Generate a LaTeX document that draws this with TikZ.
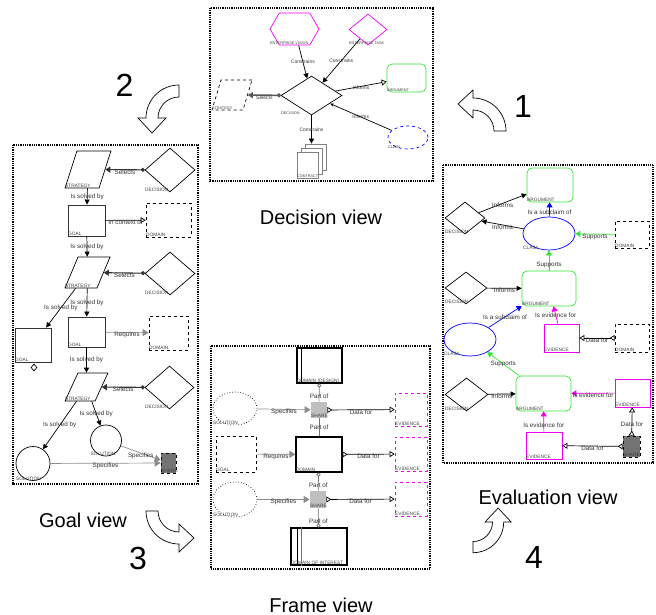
\documentclass[tikz,border=0pt]{standalone}
\usepackage{fontspec}
\setmainfont{Liberation Sans}
\usetikzlibrary{arrows.meta,shapes.geometric,shapes.symbols,shadows}

\definecolor{argcol}{RGB}{50,230,50}
\definecolor{evcol}{RGB}{240,0,240}

\tikzset{
  lab/.style={font=\fontsize{6.3}{7}\selectfont, text=black!80, inner sep=0.5pt},
  tag/.style={font=\fontsize{4.8}{5}\selectfont, text=black!75, inner sep=0.2pt, anchor=south west},
  tagged/.style={append after command={(\tikzlastnode.west |- \tikzlastnode.south) node[tag] {#1}}},
  tagcorner/.style={append after command={(\tikzlastnode.south west) node[tag] {#1}}},
  sz/.style 2 args={minimum width=#1pt, minimum height=#2pt, inner sep=0pt},
  view/.style={draw, line width=1.7pt, dash pattern=on 1pt off 0.8pt},
  title/.style={font=\fontsize{20}{22}\selectfont},
  stepno/.style={font=\fontsize{32}{34}\selectfont},
  bent/.style={draw, fill=white, line width=0.7pt},
  goalbox/.style={draw=black!80, line width=0.9pt, rectangle},
  domainbox/.style={draw, dashed, rectangle},
  strat/.style={draw, rectangle, xslant=#1},
  decide/.style={draw, diamond},
  argue/.style={draw=argcol, rounded corners=5pt, rectangle},
  claim/.style={draw=blue, ellipse},
  evid/.style={draw=evcol, rectangle},
  share/.style={draw, dashed, fill=black!55},
  solut/.style={draw, circle},
  rel/.style={-{Triangle[length=5pt,width=5pt]}},
  opentip/.style={-{Triangle[open,length=5pt,width=6pt]}},
  datafor/.style={{Triangle[open,reversed,length=5pt,width=6pt]}-{Triangle[open,length=5pt,width=6pt]}},
  sel/.style={{Circle[length=4pt]}-{Triangle[length=5pt,width=6pt]}, line width=1.1pt, black!80},
  spec/.style={black!45, -{Triangle[length=6pt,width=7pt]}},
  partof/.style={black!55, -{Circle[open,length=4pt]}},
  partln/.style={black!55},
  supp/.style={argcol, -{Triangle[length=5pt,width=6pt]}},
  subc/.style={blue, -{Triangle[length=5pt,width=6pt]}},
  evfor/.style={evcol, -{Triangle[length=5pt,width=6pt]}},
  turnarrow/.pic={
    \draw[bent] (0,-33) arc (-90:-180:33) -- (-41,0) -- (-27,15) -- (-13,0) -- (-21,0) arc (-180:-90:21) -- cycle;
  }
}

\begin{document}
\begin{tikzpicture}[x=1pt, y=-1pt, line width=0.7pt]
\useasboundingbox (0,0) rectangle (656,615);

% the four views
\draw[view] (210,8) rectangle (433,181);
\draw[view] (13,145) rectangle (198,484);
\draw[view] (211,346) rectangle (430,569);
\draw[view] (443,165) rectangle (653,463);
\node[title] (tdec) at (321,217) {Decision view};
\node[title] (tgoal) at (83,520) {Goal view};
\node[title] (tframe) at (321,605) {Frame view};
\node[title] (teval) at (548,497) {Evaluation view};

% order of the views
\node[stepno] (n1) at (523,106) {1};
\node[stepno] (n2) at (124.5,85) {2};
\node[stepno] (n3) at (138,558) {3};
\node[stepno] (n4) at (534,557) {4};
\pic[rotate=-90] at (473,131) {turnarrow};
\pic at (179,118) {turnarrow};
\pic[rotate=90] at (179,511) {turnarrow};
\pic[rotate=180, scale=0.93] at (473,522) {turnarrow};

% decision view
\begin{scope}[lab/.style={font=\fontsize{5}{6}\selectfont, text=black!80, inner sep=0.5pt},
  tag/.style={font=\fontsize{3.8}{4}\selectfont, text=black!75, inner sep=0.2pt, anchor=south west}]
  \node[draw=evcol, signal, signal to=west and east, signal pointer angle=120, sz={49}{32}, tagged={ENTERPRISE VISION}] (ev) at (294.5,29) {};
  \node[decide, draw=evcol, sz={38}{31}, tagged={ENTERPRISE TASK}] (et) at (368,29.5) {};
  \node[decide, sz={61}{39}, tagged=DECISION] (dec) at (311.5,95.5) {};
  \node[argue, sz={39}{28}, tagged=ARGUMENT] (arg) at (406.5,78) {};
  \node[strat=0.3, dashed, sz={31}{30}, tagcorner=STRATEGY] (str) at (232,95) {};
  \node[claim, dashed, sz={40}{23}, tagged=CLAIM] (cl) at (408,137.5) {};
  \node[draw=black!50, fill=white, double copy shadow={shadow xshift=4pt, shadow yshift=4pt, draw=black!50, fill=white}, sz={21}{26}, tagged=CONTRACT] (con) at (307.5,165) {};
  \draw[rel] (ev) -- node[lab] {Constrains} (dec);
  \draw[rel] (et) -- node[lab] {Constrains} (dec);
  \draw[opentip] (dec) -- node[lab, below=-1pt] {Informs} (arg);
  \draw[-{Stealth[length=4pt,width=3pt]}] (cl) -- node[lab] {Informs} (dec);
  \draw[sel, line width=1.5pt, black!65] (dec) -- node[lab, below=-1pt] {Selects} (str);
  \draw[rel] (dec) -- node[lab] {Constrains} ([xshift=4pt,yshift=8pt]con.north);
\end{scope}

% goal view
\node[strat=0.32, sz={34}{37}, tagcorner=STRATEGY] (gs1) at (88,169.5) {};
\node[decide, sz={50}{44}, tagged=DECISION] (gd1) at (170,170) {};
\node[goalbox, sz={37}{31}, tagged=GOAL] (gg1) at (86.5,220.5) {};
\node[domainbox, sz={45}{34}, tagged=DOMAIN] (gdm1) at (168.5,220) {};
\node[strat=0.42, sz={32}{31}, tagcorner=STRATEGY] (gs2) at (87.5,272.5) {};
\node[decide, sz={50}{43}, tagged=DECISION] (gd2) at (170,273.5) {};
\node[goalbox, sz={37}{30}, tagged=GOAL] (gg2) at (86.5,332) {};
\node[domainbox, sz={39}{34}, tagged=DOMAIN] (gdm2) at (168.5,333) {};
\node[goalbox, sz={36}{34}, tagged=GOAL] (gg3) at (33,345) {};
\node[draw, diamond, sz={6}{7}] (gg3m) at (34,367.5) {};
\node[strat=0.46, sz={30}{28}, tagcorner=STRATEGY] (gs3) at (86.5,387) {};
\node[decide, sz={49}{43}, tagged=DECISION] (gd3) at (169.5,387.5) {};
\node[solut, sz={31}{31}, tagged=SOLUTION] (gso2) at (106,440.5) {};
\node[solut, sz={34}{34}, tagged=SOLUTION] (gso1) at (33,463.5) {};
\node[share, sz={15}{20}, tagged=SHARE] (gsh) at (168.5,463) {};
\draw[sel] (gd1) -- node[lab, below=-1pt] {Selects} (gs1);
\draw[rel] (gs1) -- node[lab] {Is solved by} (gg1);
\draw[opentip] (gg1) -- node[lab, below=-1pt] {In context of} (gdm1);
\draw[rel] (gg1) -- node[lab] {Is solved by} (gs2);
\draw[sel] (gd2) -- node[lab, below=-1pt] {Selects} (gs2);
\draw[rel] (gs2) -- node[lab] {Is solved by} (gg2);
\draw[rel] (gs2) -- node[lab] {Is solved by} (gg3);
\draw[spec] (gg2) -- node[lab, below=-1pt] {Requires} (gdm2);
\draw[rel] (gg2) -- node[lab] {Is solved by} (gs3);
\draw[sel] (gd3) -- node[lab, below=-1pt] {Selects} (gs3);
\draw[rel] (gs3) -- node[lab] {Is solved by} (gso2);
\draw[rel] (gs3) -- node[lab] {Is solved by} (gso1);
\draw[spec] (gso2) -- node[lab, below=-1pt] {Specifies} (gsh);
\draw[spec] (gso1) -- node[lab, below=-1pt] {Specifies} (gsh);

% frame view
\node[draw, line width=1.1pt, sz={45}{35}, tagged={DOMAIN (DESIGN)}] (fdd) at (319.5,365.5) {};
\draw ([xshift=5pt]fdd.north west) -- ([xshift=5pt]fdd.south west);
\node[fill=black!25, sz={16}{16}, tagged=SHARE] (fsh1) at (319,410) {};
\node[draw, ellipse, dotted, sz={44}{33}, tagged=SOLUTION] (fso1) at (235,408.5) {};
\node[evid, dashed, sz={32}{33}, tagged=EVIDENCE] (fev1) at (411,409.5) {};
\node[domainbox, sz={40}{36}, tagged=GOAL] (fgo) at (236,454) {};
\node[draw, line width=1.1pt, sz={46}{35}, tagged=DOMAIN] (fdm) at (319,454.5) {};
\node[evid, dashed, sz={32}{34}, tagged=EVIDENCE] (fev2) at (411,454) {};
\node[fill=black!25, sz={16}{17}, tagged=SHARE] (fsh2) at (318,499.5) {};
\node[draw, ellipse, dotted, sz={44}{35}, tagged=SOLUTION] (fso2) at (235,499.5) {};
\node[evid, dashed, sz={32}{34}, tagged=EVIDENCE] (fev3) at (411,499) {};
\node[draw, line width=1.1pt, sz={56}{37}, tagged={DOMAIN OF INTEREST}] (fdi) at (319,546.5) {};
\draw ([xshift=7pt]fdi.north west) -- ([xshift=7pt]fdi.south west);
\draw[black!55] ([xshift=11pt]fdi.north west) -- ([xshift=11pt]fdi.south west);
\draw[spec] (fso1) -- node[lab, below=-1pt] {Specifies} (fsh1);
\draw[datafor] (fsh1) -- node[lab, below=-1pt] {Data for} (fev1);
\draw[partof] (fsh1) -- node[lab, pos=0.3] {Part of} (fdd);
\draw[partln] (fsh1) -- node[lab] {Part of} (fdm);
\draw[spec] (fgo) -- node[lab, below=-1pt] {Requires} (fdm);
\draw[datafor] (fdm) -- node[lab, below=-1pt] {Data for} (fev2);
\draw[partof] (fsh2) -- node[lab, pos=0.3] {Part of} (fdm);
\draw[spec] (fso2) -- node[lab, below=-1pt] {Specifies} (fsh2);
\draw[datafor] (fsh2) -- node[lab, below=-1pt] {Data for} (fev3);
\draw[partof] (fsh2) -- node[lab, pos=0.7] {Part of} (fdi);

% evaluation view
\node[argue, sz={46}{34}, tagged=ARGUMENT] (ea1) at (550,185) {};
\node[claim, sz={52}{33}, tagged=CLAIM] (ec1) at (549,233.5) {};
\node[decide, sz={40}{32}, tagged=DECISION] (ed1) at (465,218) {};
\node[domainbox, sz={34}{27}, tagged=DOMAIN] (edm1) at (632,234.5) {};
\node[argue, sz={54}{35}, tagged=ARGUMENT] (ea2) at (549,288.5) {};
\node[decide, sz={42}{32}, tagged=DECISION] (ed2) at (466,288) {};
\node[claim, sz={52}{33}, tagged=CLAIM] (ec2) at (470,339.5) {};
\node[evid, sz={35}{28}, tagged=EVIDENCE] (eev1) at (561.5,338) {};
\node[domainbox, sz={34}{28}, tagged=DOMAIN] (edm2) at (632,338) {};
\node[argue, sz={55}{35}, tagged=ARGUMENT] (ea3) at (543.5,393.5) {};
\node[decide, sz={43}{33}, tagged=DECISION] (ed3) at (466.5,394.5) {};
\node[evid, sz={35}{28}, tagged=EVIDENCE] (eev2) at (632.5,393) {};
\node[evid, sz={36}{27}, tagged=EVIDENCE] (eev3) at (544,445.5) {};
\node[share, sz={17}{21}, tagged=SHARE] (esh) at (631.5,446.5) {};
\draw[subc] (ec1) -- node[lab, pos=0.3] {Is a subclaim of} (ea1);
\draw[rel] (ed1) -- node[lab, below=-1pt] {Informs} (ea1);
\draw[rel] (ec1) -- node[lab, below=-1pt] {Informs} (ed1);
\draw[supp] (edm1) -- node[lab, below=-1pt] {Supports} (ec1);
\draw[supp] (ea2) -- node[lab, pos=0.3] {Supports} (ec1);
\draw[rel] (ed2) -- node[lab, below=-1pt] {Informs} (ea2);
\draw[subc] (ec2) -- node[lab] {Is a subclaim of} (ea2);
\draw[evfor] (eev1) -- node[lab] {Is evidence for} (ea2);
\draw[datafor] (edm2) -- node[lab, below=-1pt] {Data for} (eev1);
\draw[supp] (ea3) -- node[lab] {Supports} (ec2);
\draw[rel] (ed3) -- node[lab, below=-1pt] {Informs} (ea3);
\draw[evfor] (eev2) -- node[lab, below=-1pt] {Is evidence for} (ea3);
\draw[evfor] (eev3) -- node[lab, pos=0.3] {Is evidence for} (ea3);
\draw[datafor] (esh) -- node[lab, below=-1pt] {Data for} (eev3);
\draw[datafor] (esh) -- node[lab, pos=0.4] {Data for} (eev2);
\end{tikzpicture}
\end{document}
